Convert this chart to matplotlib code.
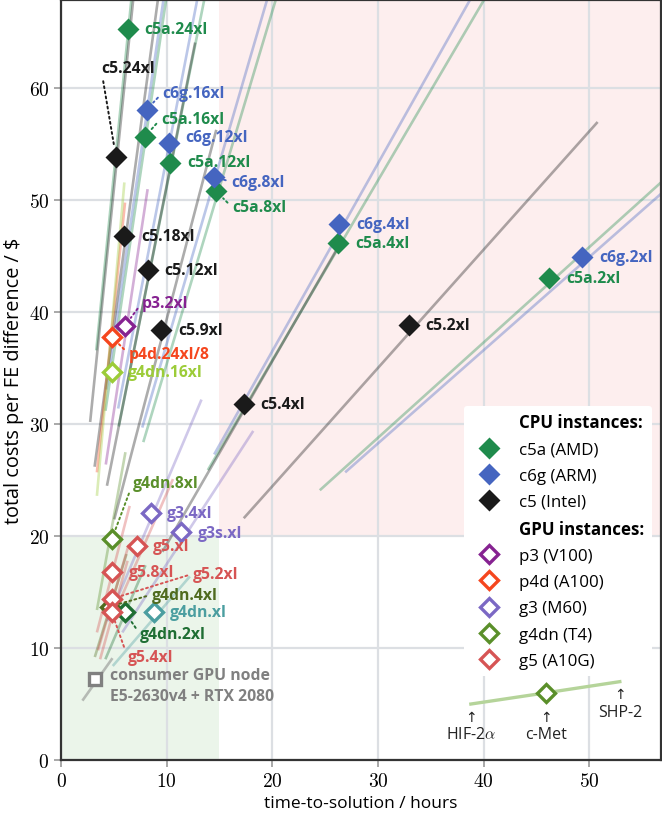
import matplotlib
matplotlib.use("Agg")
import matplotlib.pyplot as plt
from matplotlib.lines import Line2D
from matplotlib.patches import Rectangle
from matplotlib.ticker import FuncFormatter

plt.rcParams['font.family'] = ['Open Sans', 'DejaVu Sans']
plt.rcParams['mathtext.fontset'] = 'cm'

# ---------------- data ----------------
# CPU instances: time-to-solution (h) and cost ($) for c-Met, plus HIF-2a (lo) / SHP-2 (hi) ends
c5a_names = ['c5a.24xl', 'c5a.16xl', 'c5a.12xl', 'c5a.8xl', 'c5a.4xl', 'c5a.2xl']
c5a_t = [6.3, 7.95, 10.3, 14.7, 26.2, 46.2]
c5a_c = [65.3, 55.7, 53.3, 50.8, 46.2, 43.1]
c5a_t_lo = [3.34, 4.21, 5.46, 7.79, 13.9, 24.5]
c5a_c_lo = [36.6, 31.2, 29.8, 28.4, 25.9, 24.1]
c5a_t_hi = [9.77, 12.3, 16.0, 22.8, 40.6, 71.6]
c5a_c_hi = [97.3, 83.0, 79.4, 75.7, 68.8, 64.2]

c6g_names = ['c6g.16xl', 'c6g.12xl', 'c6g.8xl', 'c6g.4xl', 'c6g.2xl']
c6g_t = [8.1, 10.2, 14.5, 26.3, 49.3]
c6g_c = [58.1, 55.1, 52.1, 47.9, 44.9]
c6g_t_lo = [4.29, 5.41, 7.69, 14.5, 26.9]
c6g_c_lo = [33.1, 31.4, 29.7, 27.3, 25.7]
c6g_t_hi = [12.6, 15.8, 22.5, 40.8, 76.4]
c6g_c_hi = [86.6, 82.1, 77.6, 71.4, 66.9]

c5_names = ['c5.24xl', 'c5.18xl', 'c5.12xl', 'c5.9xl', 'c5.4xl', 'c5.2xl']
c5_t = [5.2, 6.0, 8.2, 9.5, 17.3, 32.9]
c5_c = [53.9, 46.8, 43.75, 38.4, 31.8, 38.9]
c5_t_lo = [2.76, 3.18, 4.35, 5.04, 9.6, 17.3]
c5_c_lo = [30.2, 26.2, 24.5, 21.5, 18.6, 21.6]
c5_t_hi = [8.03, 9.27, 12.7, 14.7, 26.7, 50.8]
c5_c_hi = [79.0, 68.6, 64.1, 56.3, 46.6, 57.0]

# GPU instances
gpu_names = ['p3.2xl', 'p4d.24xl/8', 'g3.4xl', 'g3s.xl',
             'g4dn.16xl', 'g4dn.8xl', 'g4dn.4xl', 'g4dn.2xl', 'g4dn.xl',
             'g5.xl', 'g5.8xl', 'g5.2xl', 'g5.4xl']
gpu_family = ['p3', 'p4d', 'g3', 'g3', 'g4dn', 'g4dn', 'g4dn', 'g4dn', 'g4dn',
              'g5', 'g5', 'g5', 'g5']
gpu_t = [6.06, 4.8, 8.5, 11.4, 4.8, 4.8, 4.6, 6.06, 8.8, 7.2, 4.8, 4.8, 4.8]
gpu_c = [38.8, 37.8, 22.1, 20.4, 34.7, 19.7, 13.7, 13.2, 13.2, 19.1, 16.8, 14.4, 13.2]
gpu_t_lo = [4.24, 3.4, 4.4, 5.8, 3.4, 3.4, 3.2, 4.2, 4.9, 5.0, 3.4, 3.5, 3.7]
gpu_c_lo = [26.4, 25.7, 12.4, 11.4, 23.6, 13.4, 9.2, 9.0, 8.4, 13.0, 11.4, 9.8, 9.0]
gpu_t_hi = [8.2, 6.06, 13.3, 18.2, 6.0, 6.1, 6.2, 8.0, 12.2, 10.6, 6.5, 6.4, 6.3]
gpu_c_hi = [51.0, 49.8, 32.2, 29.4, 51.6, 27.5, 18.4, 17.4, 16.4, 25.1, 22.7, 19.2, 17.8]

consumer_t, consumer_c = [3.2], [7.2]
consumer_t_lo, consumer_c_lo = [2.1], [5.4]
consumer_t_hi, consumer_c_hi = [4.8], [9.0]

# schematic inset (HIF-2a, c-Met, SHP-2)
inset_names = ['HIF-2$\\alpha$', 'c-Met', 'SHP-2']
inset_t = [38.8, 45.9, 52.9]
inset_c = [5.0, 6.0, 7.0]

x_ticks = [0, 10, 20, 30, 40, 50]
y_ticks = [0, 10, 20, 30, 40, 50, 60]

# ---------------- style ----------------
C_C5A = '#1f8b4c'
C_C6G = '#4565c0'
C_C5 = '#1a1a1a'
C_P3 = '#862291'
C_P4D = '#f5461e'
C_G3 = '#7b68c4'
C_G4DN = '#5a8f2a'
C_G5 = '#d65454'
C_CONS = '#808080'
fam_color = {'p3': C_P3, 'p4d': C_P4D, 'g3': C_G3, 'g4dn': C_G4DN, 'g5': C_G5}
inst_color = {'g4dn.16xl': '#9ccc38', 'g4dn.4xl': '#4f6b1e',
              'g4dn.2xl': '#1e6e33', 'g4dn.xl': '#4b9ea0'}

# label offsets in pixels (dx, dy), dotted connector flag
label_pos = {
    'c5a.24xl': (17, 0, False), 'c5a.16xl': (16, 18, True), 'c5a.12xl': (17, 1, False),
    'c5a.8xl': (16, -16, True), 'c5a.4xl': (17, 0, False), 'c5a.2xl': (17, 0, False),
    'c6g.16xl': (16, 17, True), 'c6g.12xl': (17, 6, False), 'c6g.8xl': (17, -5, True),
    'c6g.4xl': (17, 0, False), 'c6g.2xl': (17, 0, False),
    'c5.24xl': (-15, 89, True), 'c5.18xl': (17, 0, False), 'c5.12xl': (17, 0, False),
    'c5.9xl': (17, 0, False), 'c5.4xl': (17, 0, False), 'c5.2xl': (17, 0, False),
    'p3.2xl': (17, 23, True), 'p4d.24xl/8': (17, -17, True), 'g3.4xl': (16, 0, False),
    'g3s.xl': (16, -1, False), 'g4dn.16xl': (16, 0, False), 'g4dn.8xl': (21, 56, True),
    'g4dn.4xl': (42, 12, True), 'g4dn.2xl': (15, -22, True), 'g4dn.xl': (16, 0, False),
    'g5.xl': (16, 0, False), 'g5.8xl': (17, 0, False), 'g5.2xl': (81, 25, True),
    'g5.4xl': (16, -45, True),
}
# inset annotation offsets (pixels below the point): arrow, text
inset_off = [(-13, -30), (-24, -41), (-12, -30)]

fig = plt.figure(figsize=(6.62, 8.2), dpi=100)
ax = fig.add_axes([61 / 662, 59 / 820, 600 / 662, 760 / 820])
ax.set_xlim(0, 56.8)
ax.set_ylim(0, 67.9)
ax.set_axisbelow(True)

ax.add_patch(Rectangle((0, 0), 15, 20, facecolor='#ebf5ea', edgecolor='none', zorder=0))
ax.add_patch(Rectangle((15, 20), 60, 60, facecolor='#fdeeee', edgecolor='none', zorder=0))

ax.set_xticks(x_ticks)
ax.set_yticks(y_ticks)
ax.grid(True, color='#dcdfe3', lw=1.6)
fmt = FuncFormatter(lambda v, p: '$%d$' % int(round(v)))
ax.xaxis.set_major_formatter(fmt)
ax.yaxis.set_major_formatter(fmt)
ax.tick_params(labelsize=14, color='#999999', length=5, width=1.2)
for s in ax.spines.values():
    s.set_color('#333333')
    s.set_linewidth(1.6)

LW = 1.9
LA = 0.36


def draw_lines(tl, cl, th, ch, color, alpha=LA):
    for a, b, c, d in zip(tl, cl, th, ch):
        ax.plot([a, c], [b, d], color=color, lw=LW, alpha=alpha, zorder=2,
                solid_capstyle='butt')


draw_lines(c5a_t_lo, c5a_c_lo, c5a_t_hi, c5a_c_hi, C_C5A)
draw_lines(c6g_t_lo, c6g_c_lo, c6g_t_hi, c6g_c_hi, C_C6G)
draw_lines(c5_t_lo, c5_c_lo, c5_t_hi, c5_c_hi, C_C5, alpha=0.36)
for i, n in enumerate(gpu_names):
    col = inst_color.get(n, fam_color[gpu_family[i]])
    ax.plot([gpu_t_lo[i], gpu_t_hi[i]], [gpu_c_lo[i], gpu_c_hi[i]], color=col,
            lw=LW, alpha=LA, zorder=2, solid_capstyle='butt')
ax.plot([consumer_t_lo[0], consumer_t_hi[0]], [consumer_c_lo[0], consumer_c_hi[0]],
        color=C_CONS, lw=LW, alpha=0.5, zorder=2)

FS = 11.3


def label(name, x, y, color):
    dx, dy, dotted = label_pos[name]
    kw = dict(textcoords='offset pixels', ha='left', va='center', fontsize=FS,
              fontweight='bold', color=color, zorder=6)
    if dotted:
        kw['arrowprops'] = dict(arrowstyle='-', linestyle=':', color=color, lw=1.4,
                                shrinkA=2, shrinkB=7, relpos=(0, 0.5))
    ax.annotate(name, xy=(x, y), xytext=(dx, dy), **kw)


MS_F = 10.8
MS_O = 9.2
for names, ts, cs, col in [(c5a_names, c5a_t, c5a_c, C_C5A),
                           (c6g_names, c6g_t, c6g_c, C_C6G),
                           (c5_names, c5_t, c5_c, C_C5)]:
    for n, t, c in zip(names, ts, cs):
        ax.plot([t], [c], marker='D', ms=MS_F, color=col, mec='none', ls='none', zorder=4)
        label(n, t, c, col)

order = ['g4dn.4xl'] + [n for n in gpu_names if n != 'g4dn.4xl']
for n in order:
    i = gpu_names.index(n)
    col = inst_color.get(n, fam_color[gpu_family[i]])
    ax.plot([gpu_t[i]], [gpu_c[i]], marker='D', ms=MS_O, mfc='white', mec=col,
            mew=2.4, ls='none', zorder=4)
    label(n, gpu_t[i], gpu_c[i], col)

ax.plot(consumer_t, consumer_c, marker='s', ms=8.5, mfc='white', mec=C_CONS, mew=2.4,
        ls='none', zorder=4)
ax.annotate('consumer GPU node\nE5-2630v4 + RTX 2080', xy=(consumer_t[0], consumer_c[0]),
            xytext=(15, 12), textcoords='offset pixels', ha='left', va='top',
            fontsize=FS, fontweight='bold', color=C_CONS, linespacing=1.4, zorder=6)

# inset schematic
ax.plot(inset_t, inset_c, color='#b5d49a', lw=2.4, zorder=3)
ax.plot([inset_t[1]], [inset_c[1]], marker='D', ms=MS_O, mfc='white', mec=C_G4DN,
        mew=2.4, zorder=4)
for (n, t, c), (oa, ot) in zip(zip(inset_names, inset_t, inset_c), inset_off):
    ax.annotate('\u2191', xy=(t, c), xytext=(0, oa), textcoords='offset pixels',
                ha='center', va='center', fontsize=10, family=['DejaVu Sans'],
                color='#222222')
    ax.annotate(n, xy=(t, c), xytext=(0, ot), textcoords='offset pixels',
                ha='center', va='center', fontsize=11.5, color='#222222')

# legend
hdr = Line2D([], [], ls='none')
handles = [hdr,
           Line2D([], [], marker='D', ms=MS_F, color=C_C5A, mec='none', ls='none'),
           Line2D([], [], marker='D', ms=MS_F, color=C_C6G, mec='none', ls='none'),
           Line2D([], [], marker='D', ms=MS_F, color=C_C5, mec='none', ls='none'),
           hdr]
labels = ['CPU instances:', 'c5a (AMD)', 'c6g (ARM)', 'c5 (Intel)', 'GPU instances:']
for col, lab in [(C_P3, 'p3 (V100)'), (C_P4D, 'p4d (A100)'), (C_G3, 'g3 (M60)'),
                 (C_G4DN, 'g4dn (T4)'), (C_G5, 'g5 (A10G)')]:
    handles.append(Line2D([], [], marker='D', ms=MS_O, mfc='white', mec=col, mew=2.4,
                          ls='none'))
    labels.append(lab)
leg = ax.legend(handles, labels, loc='lower right', bbox_to_anchor=(0.985, 0.11),
                borderaxespad=0, fontsize=12.2, labelspacing=0.6, handletextpad=0.8,
                handlelength=2.0, frameon=True, framealpha=1, facecolor='white',
                edgecolor='none', fancybox=True, borderpad=0.45)
leg.set_zorder(7)
for i in (0, 4):
    leg.get_texts()[i].set_fontweight('bold')

ax.set_xlabel('time-to-solution / hours', fontsize=12.5, labelpad=4)
ax.set_ylabel('total costs per FE difference / $', fontsize=14.3, labelpad=3)

fig.savefig('out.png', dpi=100)
